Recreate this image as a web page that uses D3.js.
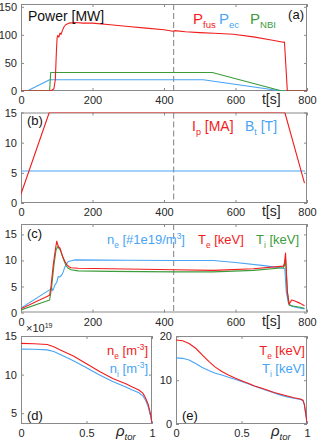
<!DOCTYPE html>
<html>
<head>
<meta charset="utf-8">
<script src="https://cdn.jsdelivr.net/npm/d3@7"></script>
<style>
  body { margin: 0; background: #fff; }
  svg { display: block; font-family: "Liberation Sans", Arial, sans-serif; }
</style>
</head>
<body>
<svg id="chart" width="317" height="442"></svg>
<script>
// ---- (a) powers [MW] vs t[s]
var tFus = [0, 78, 85, 92, 96, 99, 101, 103, 106, 109, 112, 116, 120, 125, 135, 150, 175, 200, 250, 300, 350, 400, 425, 430, 460, 500, 540, 594, 650, 700, 734, 737, 745, 800]
var pFus = [0, 0, 1, 4, 20, 70, 95, 99, 96, 103, 101, 108, 114, 118, 121, 122, 121, 121, 118, 115, 112, 109, 106.5, 107.5, 105.5, 104, 103, 101, 96.5, 91, 87, 87, 0, 0]
var tEc = [0, 20, 80, 510, 730, 800]
var pEc = [1, 1, 20, 20, 0, 0]
var tNbi = [0, 80, 83, 535, 730, 800]
var pNbi = [0, 0, 33, 33, 0, 0]

// ---- (b) plasma current [MA], toroidal field [T]
var tIp = [0, 79, 738, 793]
var ip = [1.5, 15, 15, 3.3]
var tBt = [0, 795]
var bt = [5.3, 5.3]

// ---- (c) density and temperatures
var tNe = [0, 81, 86, 89, 95, 100, 104, 108, 114, 118, 123, 132, 150, 300, 430, 538, 600, 680, 734, 738, 742, 748, 757, 775, 793]
var ne = [0.85, 4.4, 4.7, 4.2, 5.3, 5.8, 6.9, 6.8, 7.2, 7.8, 8.8, 9.8, 10.1, 10.05, 10.0, 10.0, 9.6, 9.0, 8.5, 8.4, 4.0, 1.8, 1.2, 0.9, 0.7]
var tTe = [0, 80, 84, 90, 96, 100, 102, 105, 109, 113, 118, 123, 128, 134, 140, 160, 250, 430, 538, 650, 734, 737, 740, 745, 750, 757, 766, 780, 793]
var te = [0.7, 3.3, 5, 9, 12, 13.7, 13.2, 12.6, 12.4, 11.5, 10.5, 9.8, 9.2, 8.8, 8.6, 8.5, 8.4, 8.2, 8.1, 8.4, 8.9, 9.5, 11.4, 4, 1.6, 2.4, 2.2, 1.8, 1.3]
var tTi = [0, 80, 85, 92, 98, 103, 106, 110, 115, 120, 126, 132, 140, 160, 250, 430, 538, 650, 734, 737, 740, 745, 750, 757, 780, 793]
var ti = [0.5, 2.4, 4.5, 9, 12, 12.7, 12.3, 12.0, 11.0, 10.0, 9.0, 8.5, 8.2, 8.0, 7.9, 7.8, 7.8, 8.1, 8.6, 9.0, 10.3, 4, 1.4, 1.3, 1.0, 0.8]

// ---- (d) density profiles [1e19 m^-3] vs rho_tor
var rhoN = [0, 0.1, 0.2, 0.25, 0.3, 0.4, 0.5, 0.6, 0.7, 0.8, 0.85, 0.9, 0.93, 0.95, 0.97, 0.99, 1.0]
var neProf = [14.05, 14.0, 13.9, 13.6, 13.2, 12.4, 11.4, 10.4, 9.5, 8.8, 8.4, 8.0, 7.6, 7.0, 6.2, 4.8, 3.7]
var niProf = [13.3, 13.28, 13.2, 13.0, 12.6, 11.8, 10.9, 9.95, 9.1, 8.4, 8.0, 7.65, 7.25, 6.7, 5.9, 4.6, 3.6]

// ---- (e) temperature profiles [keV] vs rho_tor
var rhoT = [0, 0.05, 0.1, 0.15, 0.2, 0.25, 0.3, 0.35, 0.4, 0.45, 0.5, 0.55, 0.6, 0.65, 0.7, 0.75, 0.8, 0.85, 0.9, 0.95, 0.97, 0.98, 0.99, 1.0]
var teProf = [19.2, 19.0, 18.4, 17.3, 15.8, 14.3, 13.0, 12.0, 11.2, 10.5, 9.9, 9.3, 8.7, 8.2, 7.7, 7.2, 6.8, 6.4, 6.0, 5.7, 5.4, 4.5, 2.5, 0.3]
var tiProf = [15.1, 15.0, 14.6, 13.8, 12.9, 12.2, 11.6, 11.2, 10.7, 10.2, 9.7, 9.2, 8.6, 8.1, 7.6, 7.1, 6.6, 6.2, 5.9, 5.6, 5.3, 4.3, 2.3, 0.2]

var tTicks = [0, 200, 400, 600, 800]
var rhoTicks = [0, 0.5, 1]
var tMarker = 427

var red = '#f21c1c', blue = '#48a4f4', green = '#3c9c3c'
var frameCol = '#8a8a8a', textCol = '#262626'

var svg = d3.select('#chart')

function panel(o) {
    var x = d3.scaleLinear().domain(o.xd).range([o.x0, o.x1])
    var y = d3.scaleLinear().domain(o.yd).range([o.y1, o.y0])
    var g = svg.append('g')

    var fmt = o.xfmt || d3.format('d')
    var bottom = g.append('g').attr('transform', 'translate(0,' + o.y1 + ')')
        .call(d3.axisBottom(x).tickValues(o.xt).tickSizeInner(-3).tickSizeOuter(0).tickPadding(5.5).tickFormat(fmt))
    var top = g.append('g').attr('transform', 'translate(0,' + o.y0 + ')')
        .call(d3.axisTop(x).tickValues(o.xt).tickSizeInner(-3).tickSizeOuter(0).tickFormat(''))
    var left = g.append('g').attr('transform', 'translate(' + o.x0 + ',0)')
        .call(d3.axisLeft(y).tickValues(o.yt).tickSizeInner(-3).tickSizeOuter(0).tickPadding(4))
    var right = g.append('g').attr('transform', 'translate(' + o.x1 + ',0)')
        .call(d3.axisRight(y).tickValues(o.yt).tickSizeInner(-3).tickSizeOuter(0).tickFormat(''))

    ;[bottom, top, left, right].forEach(function(a) {
        a.select('.domain').remove()
        a.attr('font-size', 11).attr('font-family', null)
        a.selectAll('line').attr('stroke', frameCol)
        a.selectAll('text').attr('fill', textCol)
    })

    g.append('rect')
        .attr('x', o.x0 + 0.5).attr('y', o.y0 + 0.5)
        .attr('width', o.x1 - o.x0 - 1).attr('height', o.y1 - o.y0 - 1)
        .attr('fill', 'none').attr('stroke', frameCol).attr('stroke-width', 1)

    var clipId = 'clip' + o.name
    svg.append('clipPath').attr('id', clipId).append('rect')
        .attr('x', o.x0).attr('y', o.y0).attr('width', o.x1 - o.x0).attr('height', o.y1 - o.y0)

    var plot = g.append('g').attr('clip-path', 'url(#' + clipId + ')')
    return { x: x, y: y, g: g, plot: plot }
}

function series(p, xs, ys, color) {
    var line = d3.line().x(function(d) { return p.x(d[0]) }).y(function(d) { return p.y(d[1]) })
    p.plot.append('path').datum(d3.zip(xs, ys))
        .attr('d', line).attr('fill', 'none')
        .attr('stroke', color).attr('stroke-width', 1.1).attr('stroke-linejoin', 'round')
}

function marker(p) {
    p.plot.append('line')
        .attr('x1', p.x(tMarker)).attr('x2', p.x(tMarker))
        .attr('y1', p.y.range()[1]).attr('y2', p.y.range()[0])
        .attr('stroke', '#8c8c8c').attr('stroke-width', 1.1).attr('stroke-dasharray', '6,3')
}

// parts: [text, 'sub' | 'sup' | undefined]
function label(x, y, parts, color, size, anchor) {
    var t = svg.append('text').attr('x', x).attr('y', y)
        .attr('fill', color).attr('font-size', size).attr('text-anchor', anchor || 'start')
    var shift = 0
    parts.forEach(function(pt) {
        var s = pt[1] == 'sub' ? size * 0.28 : pt[1] == 'sup' ? -size * 0.4 : 0
        t.append('tspan').text(pt[0])
            .attr('dy', s - shift)
            .attr('font-size', pt[1] ? size * 0.64 : size)
        shift = s
    })
    return t
}

// (a)
var pa = panel({ name: 'a', x0: 21, x1: 307, y0: 4, y1: 91, xd: [0, 800], yd: [0, 155], xt: tTicks, yt: [0, 50, 100, 150] })
marker(pa)
series(pa, tEc, pEc, blue)
series(pa, tNbi, pNbi, green)
series(pa, tFus, pFus, red)
label(28, 21, [['Power [MW]']], '#111', 14)
label(304, 19, [['(a)']], '#111', 13, 'end')
label(193, 24, [['P'], ['fus', 'sub']], red, 15)
label(219, 24, [['P'], ['ec', 'sub']], blue, 15)
label(250, 24, [['P'], ['NBI', 'sub']], green, 15)
label(pa.x(700), 104, [['t[s]']], textCol, 14, 'middle')

// (b)
var pb = panel({ name: 'b', x0: 21, x1: 307, y0: 112.5, y1: 203, xd: [0, 800], yd: [0, 15], xt: tTicks, yt: [0, 5, 10, 15] })
marker(pb)
series(pb, tBt, bt, blue)
series(pb, tIp, ip, red)
label(27, 125, [['(b)']], '#111', 13)
label(192, 131, [['I'], ['p', 'sub'], [' [MA]']], red, 14)
label(245, 131, [['B'], ['t', 'sub'], [' [T]']], blue, 14)
label(pb.x(700), 216, [['t[s]']], textCol, 14, 'middle')

// (c)
var pc = panel({ name: 'c', x0: 21, x1: 307, y0: 224, y1: 312.5, xd: [0, 800], yd: [0, 17], xt: tTicks, yt: [0, 5, 10, 15] })
marker(pc)
series(pc, tNe, ne, blue)
series(pc, tTi, ti, green)
series(pc, tTe, te, red)
label(27, 238, [['(c)']], '#111', 13)
label(107, 244, [['n'], ['e', 'sub'], [' [#1e19/m'], ['3', 'sup'], [']']], blue, 13)
label(198, 244, [['T'], ['e', 'sub'], [' [keV]']], red, 13)
label(256, 244, [['T'], ['i', 'sub'], [' [keV]']], green, 13)
label(pc.x(700), 326, [['t[s]']], textCol, 14, 'middle')

// (d)
var pd = panel({ name: 'd', x0: 21, x1: 152, y0: 336, y1: 424, xd: [0, 1], yd: [3.6, 15], xt: rhoTicks, yt: [5, 10, 15], xfmt: d3.format('') })
series(pd, rhoN, niProf, blue)
series(pd, rhoN, neProf, red)
label(26, 332, [['\u00d710'], ['19', 'sup']], textCol, 11)
label(148, 355, [['n'], ['e', 'sub'], [' [m'], ['-3', 'sup'], [']']], red, 13, 'end')
label(148, 373, [['n'], ['i', 'sub'], [' [m'], ['-3', 'sup'], [']']], blue, 13, 'end')
label(27, 420, [['(d)']], '#111', 13)
label(pd.x(0.8), 436, [['\u03c1', null], ['tor', 'sub']], textCol, 15, 'middle').attr('font-style', 'italic')

// (e)
var pe = panel({ name: 'e', x0: 176, x1: 307, y0: 336, y1: 424, xd: [0, 1], yd: [0, 20.1], xt: rhoTicks, yt: [0, 10, 20], xfmt: d3.format('') })
series(pe, rhoT, tiProf, blue)
series(pe, rhoT, teProf, red)
label(305, 355, [['T'], ['e', 'sub'], [' [keV]']], red, 13, 'end')
label(305, 373, [['T'], ['i', 'sub'], [' [keV]']], blue, 13, 'end')
label(182, 420, [['(e)']], '#111', 13)
label(pe.x(0.8), 436, [['\u03c1', null], ['tor', 'sub']], textCol, 15, 'middle').attr('font-style', 'italic')
</script>
</body>
</html>
